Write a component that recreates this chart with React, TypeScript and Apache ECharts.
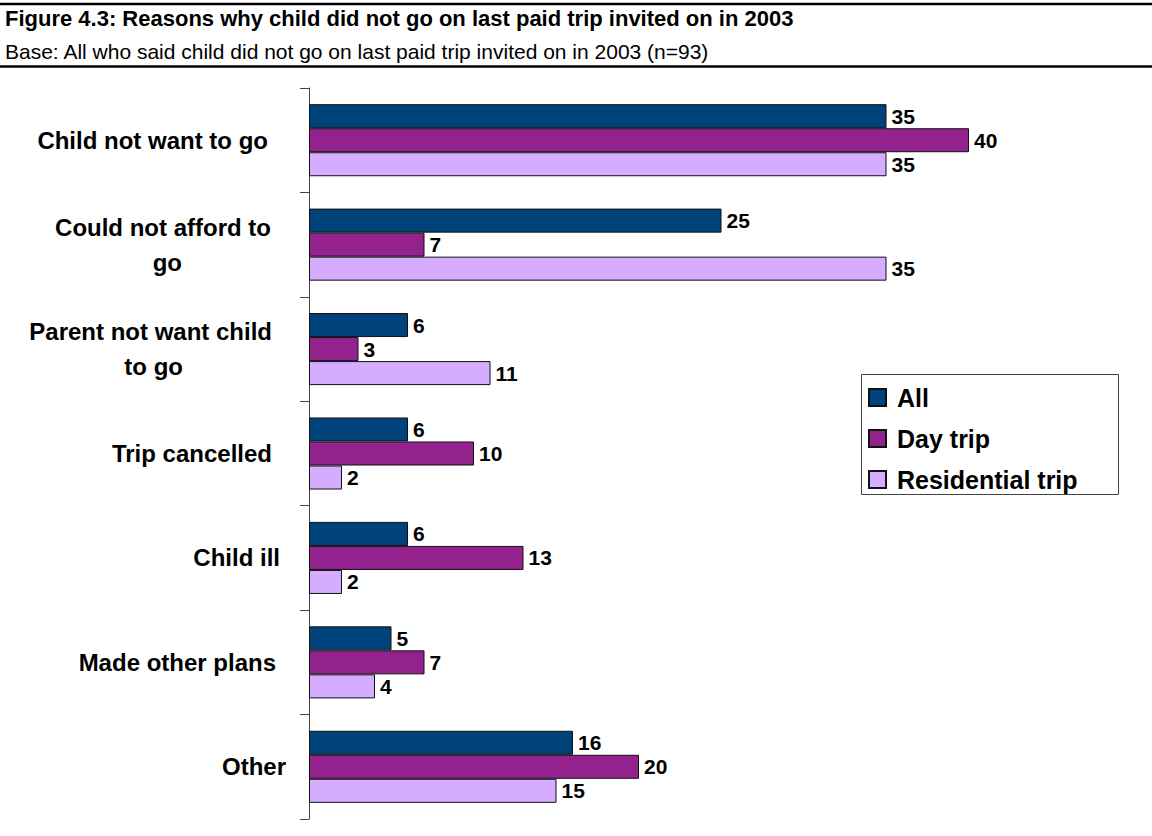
import React, { useEffect, useRef } from "react";
import * as echarts from "echarts";

const categories = [
  "Child not want to go",
  "Could not afford to\ngo",
  "Parent not want child\nto go",
  "Trip cancelled",
  "Child ill",
  "Made other plans",
  "Other",
];
const seriesNames = ["All", "Day trip", "Residential trip"];
const allValues = [35, 25, 6, 6, 6, 5, 16];
const dayTripValues = [40, 7, 3, 10, 13, 7, 20];
const residentialValues = [35, 35, 11, 2, 2, 4, 15];

const titleText = "Figure 4.3: Reasons why child did not go on last paid trip invited on in 2003";
const subtitleText = "Base: All who said child did not go on last paid trip invited on in 2003 (n=93)";

// layout: right edge (px) of each label line
const labelEdges = [[268], [271, 182], [272, 183], [272], [280], [276], [286]];

const FONT = '"Liberation Sans", Arial, sans-serif';
const COLORS = ["#00427A", "#93218E", "#D5ACFF"];

export default function App() {
  const ref = useRef<HTMLDivElement>(null);
  useEffect(() => {
    if (!ref.current) return;
    const chart = echarts.init(ref.current, null, { renderer: "svg" });
    const RIGHT = 286;
    const rich: any = {};
    categories.forEach((c, i) =>
      c.split("\n").forEach((line, j) => {
        rich[`c${i}l${j}`] = {
          fontSize: 24,
          fontWeight: "bold",
          fontFamily: FONT,
          color: "#000",
          lineHeight: 35,
          padding: [0, RIGHT - labelEdges[i][j], 0, 0],
        };
      })
    );
    const values = [allValues, dayTripValues, residentialValues];
    chart.setOption({
      animation: false,
      backgroundColor: "#fff",
      textStyle: { fontFamily: FONT },
      grid: { left: 309, right: 183, top: 88, bottom: 17, containLabel: false },
      xAxis: { type: "value", min: 0, max: 40, show: false },
      yAxis: {
        type: "category",
        inverse: true,
        data: categories,
        offset: 1,
        axisLine: { show: true, lineStyle: { color: "#444", width: 1 } },
        axisTick: { show: true, length: 9, interval: 0, lineStyle: { color: "#444" } },
        axisLabel: {
          margin: 22,
          align: "right",
          interval: 0,
          formatter: (v: string, i: number) =>
            v.split("\n").map((l, j) => `{c${i}l${j}|${l}}`).join("\n"),
          rich,
        },
        splitLine: { show: false },
      },
      legend: {
        show: true,
        orient: "vertical",
        left: 861,
        top: 374,
        padding: [11, 10, 3, 7],
        itemWidth: 17,
        itemHeight: 17,
        itemGap: 16,
        icon: "rect",
        data: seriesNames,
        textStyle: { fontSize: 25, fontWeight: "bold", color: "#000", fontFamily: FONT, padding: [0, 0, 0, 6] },
        selectedMode: false,
      },
      graphic: [
        { type: "line", shape: { x1: 0, y1: 4, x2: 1152, y2: 4 }, style: { stroke: "#000", lineWidth: 2.5 } },
        { type: "line", shape: { x1: 0, y1: 66.5, x2: 1152, y2: 66.5 }, style: { stroke: "#000", lineWidth: 2.5 } },
        {
          type: "text",
          style: { x: 5, y: 18.5, text: titleText, font: `bold 22px ${FONT}`, fill: "#000", verticalAlign: "middle" },
        },
        {
          type: "text",
          style: { x: 5, y: 51, text: subtitleText, font: `21px ${FONT}`, fill: "#000", verticalAlign: "middle" },
        },
        {
          type: "rect",
          shape: { x: 861.5, y: 374.5, width: 257, height: 120 },
          style: { fill: "none", stroke: "#444", lineWidth: 1 },
        },
      ],
      series: seriesNames.map((name, k) => ({
        name,
        type: "bar",
        data: values[k],
        barGap: "0%",
        barCategoryGap: "31%",
        itemStyle: { color: COLORS[k], borderColor: "#111", borderWidth: 1 },
        label: {
          show: true,
          position: "right",
          distance: 5,
          fontSize: 21,
          fontWeight: "bold",
          color: "#000",
          fontFamily: FONT,
        },
      })),
    });
    return () => chart.dispose();
  }, []);
  return (
    <div
      ref={ref}
      style={{ position: "fixed", left: 0, top: 0, width: 1152, height: 836, background: "#fff" }}
    />
  );
}
